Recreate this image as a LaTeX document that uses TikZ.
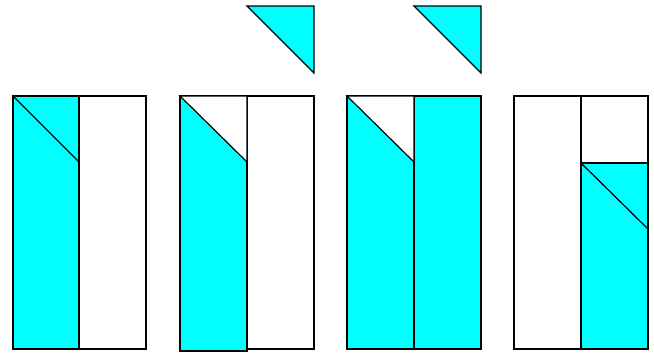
\documentclass[tikz,border=0pt]{standalone}
\definecolor{aqua}{RGB}{0,255,255}
\begin{document}
\begin{tikzpicture}[x=0.75pt,y=-0.75pt,line join=miter,
  cy/.style={fill=aqua,draw=black,line width=0.9pt},
  wh/.style={fill=white,draw=black,line width=0.9pt},
  ln/.style={draw=black,line width=0.9pt}]
\useasboundingbox (0,0) rectangle (654,354);
% Panel 1
\draw[cy] (13,96) rectangle (79,349);
\draw[wh] (79,96) rectangle (146,349);
\draw[ln] (13,96) -- (79,162);
% Panel 2
\draw[wh] (247,96) rectangle (314,349);
\draw[cy] (180,96) rectangle (247,351);
\fill[white] (180,96) -- (247,96) -- (247,162) -- cycle;
\draw[ln] (180,96) -- (247,96) -- (247,162) -- cycle;
\draw[cy] (247,6) -- (314,6) -- (314,73) -- cycle;
% Panel 3
\draw[cy] (347,96) rectangle (414,349);
\draw[cy] (414,96) rectangle (481,349);
\fill[white] (347,96) -- (414,96) -- (414,162) -- cycle;
\draw[ln] (347,96) -- (414,96) -- (414,162) -- cycle;
\draw[cy] (414,6) -- (481,6) -- (481,73) -- cycle;
% Panel 4
\draw[wh] (514,96) rectangle (581,349);
\draw[wh] (581,96) rectangle (648,163);
\draw[cy] (581,163) rectangle (648,349);
\draw[ln] (581,163) -- (648,229);
\end{tikzpicture}
\end{document}
